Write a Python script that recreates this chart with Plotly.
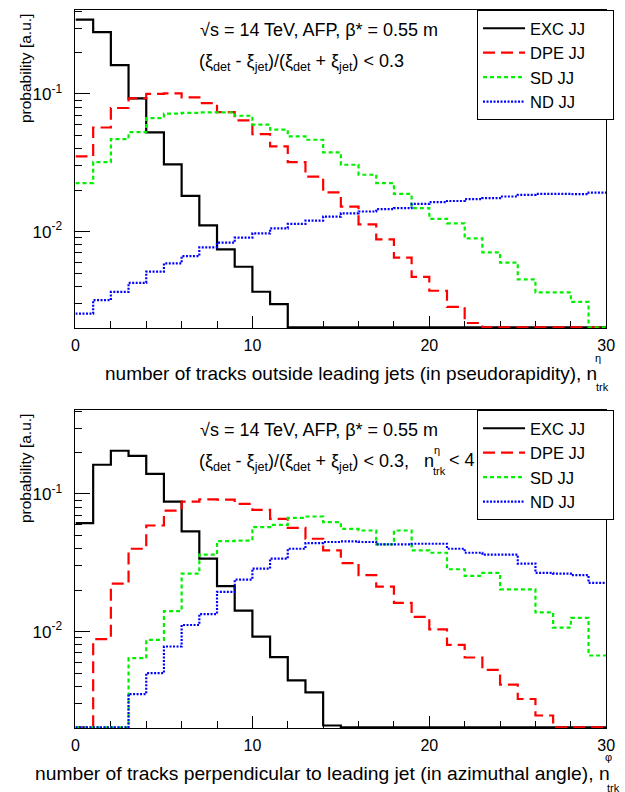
import numpy as np
import plotly.graph_objects as go

# ---------------- data (bin contents, bins of width 1 from 0 to 30) ----------------
bin_edges = list(range(0, 31))

exc_eta = [0.347, 0.281, 0.162, 0.093, 0.0526, 0.0308, 0.0182, 0.0111, 0.00743, 0.00556,
           0.00366, 0.00297, 0, 0, 0, 0, 0, 0, 0, 0, 0, 0, 0, 0, 0, 0, 0, 0, 0, 0]
dpe_eta = [0.0352, 0.0571, 0.0791, 0.093, 0.100, 0.101, 0.0946, 0.0859, 0.0739, 0.0643,
           0.0511, 0.0416, 0.0320, 0.0251, 0.0193, 0.0152, 0.0113, 0.00879, 0.00647, 0.00470,
           0.00372, 0.00284, 0.00217, 0, 0, 0, 0, 0, 0, 0]
sd_eta = [0.0225, 0.0320, 0.0470, 0.0528, 0.0668, 0.0719, 0.0728, 0.0735, 0.0735, 0.0695,
          0.0598, 0.0550, 0.0492, 0.0465, 0.0376, 0.0306, 0.0259, 0.0225, 0.0188, 0.0148,
          0.0124, 0.0115, 0.00893, 0.00708, 0.00595, 0.00450, 0.00362, 0.00362, 0.00309, 0]
nd_eta = [0.00254, 0.00318, 0.00365, 0.00425, 0.00512, 0.00588, 0.00665, 0.00769, 0.00831, 0.00904,
          0.00972, 0.01057, 0.01137, 0.01202, 0.01286, 0.01359, 0.0140, 0.01455, 0.0148, 0.0159,
          0.01636, 0.0167, 0.0172, 0.0175, 0.0180, 0.0185, 0.0188, 0.0188, 0.0187, 0.0192]

exc_phi = [0.0614, 0.163, 0.206, 0.189, 0.140, 0.0880, 0.0535, 0.0339, 0.0214, 0.0142,
           0.0092, 0.00652, 0.00442, 0.00362, 0.00208, 0, 0, 0, 0, 0, 0, 0, 0, 0, 0, 0, 0, 0, 0, 0]
dpe_phi = [0, 0.00881, 0.0223, 0.0400, 0.0590, 0.0758, 0.0880, 0.0915, 0.0911, 0.0847,
           0.0766, 0.0659, 0.0568, 0.0473, 0.0389, 0.0315, 0.0257, 0.0212, 0.0162, 0.0128,
           0.0104, 0.00801, 0.00649, 0.00528, 0.00412, 0.00324, 0.00246, 0, 0, 0]
sd_phi = [0, 0, 0, 0.00641, 0.00871, 0.0141, 0.0264, 0.0362, 0.0455, 0.0459,
          0.0574, 0.0597, 0.0671, 0.0686, 0.0624, 0.0558, 0.0543, 0.0430, 0.0543, 0.0389,
          0.0374, 0.0284, 0.0254, 0.0267, 0.0203, 0.0203, 0.0138, 0.0107, 0.0126, 0.00671]
nd_phi = [0, 0, 0, 0.00352, 0.00500, 0.00780, 0.01117, 0.01342, 0.01946, 0.0239,
          0.0287, 0.0339, 0.0400, 0.0440, 0.0448, 0.0452, 0.0448, 0.0430, 0.0430, 0.0435,
          0.0435, 0.0400, 0.0374, 0.0362, 0.0362, 0.0312, 0.0267, 0.0264, 0.0257, 0.0226]

series_names = ["EXC JJ", "DPE JJ", "SD JJ", "ND JJ"]
x_ticks = [0, 10, 20, 30]
y_tick_vals = [0.01, 0.1]
y_tick_text = ["10<sup>-2</sup>", "10<sup>-1</sup>"]

# ---------------- styling ----------------
W, H = 625, 792
FONT = "Liberation Sans, Arial, Helvetica, sans-serif"
LOG_RANGE = [-2.70, -0.39]
styles = [
    dict(color="#000000", width=2.2, dash="solid"),
    dict(color="#ff0000", width=2.2, dash="12px,6px"),
    dict(color="#00f000", width=2.2, dash="4px,3px"),
    dict(color="#0000ff", width=2.2, dash="2px,1.5px"),
]
floor = 10 ** (LOG_RANGE[0] + 0.004)
LEG_PAD = "\u00a0" * 5


def px(x):
    return x / W


def py(y):
    return 1 - y / H


def step_y(vals):
    v = np.array(vals, dtype=float)
    v = np.where(v > 0, v, floor)
    return np.append(v, v[-1])


fig = go.Figure()
panels = [
    ([exc_eta, dpe_eta, sd_eta, nd_eta], "x", "y", "legend"),
    ([exc_phi, dpe_phi, sd_phi, nd_phi], "x2", "y2", "legend2"),
]
for series, xa, ya, lg in panels:
    for name, vals, st in zip(series_names, series, styles):
        fig.add_trace(go.Scatter(
            x=bin_edges, y=step_y(vals), mode="lines", line_shape="hv",
            line=st, name=name + LEG_PAD, xaxis=xa, yaxis=ya, legend=lg,
            legendgroup=lg + name, showlegend=True, hoverinfo="skip"))

minor_y = [m * 10 ** e for e in (-3, -2, -1) for m in range(2, 10)]
minor_y = [v for v in minor_y if 10 ** LOG_RANGE[0] < v < 10 ** LOG_RANGE[1]]

xdom = [px(73), px(615)]
ax_common_x = dict(range=[0, 30], tickvals=x_ticks, ticks="inside", ticklen=12, tickwidth=1,
                   tickcolor="black", showline=True, linecolor="black", linewidth=1, mirror=True,
                   showgrid=False, zeroline=False, layer="below traces", ticklabelstandoff=3,
                   tickfont=dict(size=16, family=FONT, color="black"),
                   minor=dict(dtick=2, tick0=0, ticks="inside", ticklen=7, tickcolor="black", showgrid=False))
ax_common_y = dict(type="log", range=LOG_RANGE, tickvals=y_tick_vals, ticktext=y_tick_text,
                   ticks="inside", ticklen=15, tickwidth=1, tickcolor="black", showline=True,
                   linecolor="black", linewidth=1, mirror=True, showgrid=False, zeroline=False,
                   layer="below traces", ticklabelstandoff=9,
                   tickfont=dict(size=17, family=FONT, color="black"),
                   minor=dict(tickmode="array", tickvals=minor_y, ticks="inside", ticklen=7,
                              tickcolor="black", showgrid=False))

leg_common = dict(xanchor="right", yanchor="top", bordercolor="black", borderwidth=1,
                  bgcolor="white", font=dict(size=16.5, family=FONT, color="black"),
                  tracegroupgap=0, itemwidth=42)

fig.update_layout(
    width=W, height=H, margin=dict(l=0, r=0, t=0, b=0),
    paper_bgcolor="white", plot_bgcolor="white",
    font=dict(family=FONT, color="black"),
    xaxis=dict(domain=xdom, anchor="y", **ax_common_x),
    yaxis=dict(domain=[py(328), py(10)], anchor="x", **ax_common_y),
    xaxis2=dict(domain=xdom, anchor="y2", **ax_common_x),
    yaxis2=dict(domain=[py(728), py(410)], anchor="x2", **ax_common_y),
    legend=dict(x=px(623), y=py(10), **leg_common),
    legend2=dict(x=px(623), y=py(410), **leg_common),
)

ann = []


def text(x, y, s, size=18, xanchor="left", yanchor="middle", angle=0):
    ann.append(dict(x=px(x), y=py(y), xref="paper", yref="paper", text=s, showarrow=False,
                    xanchor=xanchor, yanchor=yanchor, textangle=angle,
                    font=dict(size=size, family=FONT, color="black")))


xi = "(ξ<sub>det</sub> - ξ<sub>jet</sub>)/(ξ<sub>det</sub> + ξ<sub>jet</sub>) &lt; 0.3"
for off in (0, 400):
    text(198, 30 + off, "√s = 14 TeV, AFP, β* = 0.55 m")
    text(22, 12 + off, "probability [a.u.]", size=15.5, xanchor="center", yanchor="top", angle=-90)
text(197, 62, xi)
text(197, 462, xi + ",   n")
text(442, 450, "η", size=11, xanchor="center")
text(445, 471, "trk", size=11, xanchor="center")
text(468, 460, "&lt; 4", xanchor="center")

text(354, 373, "number of tracks outside leading jets (in pseudorapidity), n", size=19, xanchor="center")
text(607, 358, "η", size=11, xanchor="center")
text(611, 387, "trk", size=11, xanchor="center")
text(325, 773, "number of tracks perpendicular to leading jet (in azimuthal angle), n", size=19.25, xanchor="center")
text(617, 757, "φ", size=11, xanchor="center")
text(622, 788, "trk", size=11, xanchor="center")

fig.update_layout(annotations=ann)
fig.write_html("out.html")
